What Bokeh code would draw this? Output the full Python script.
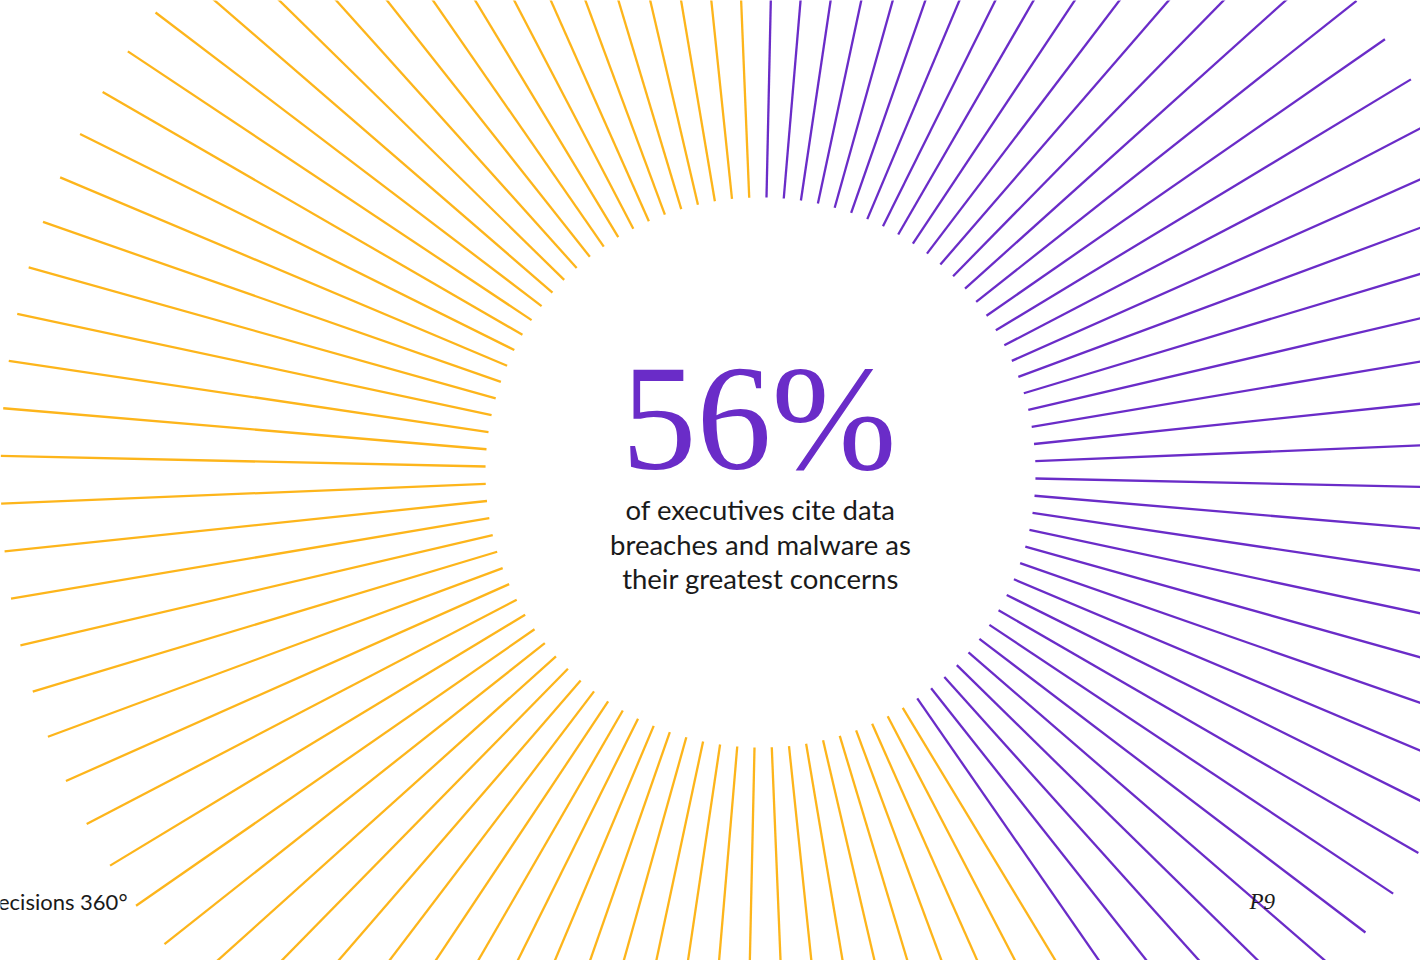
import numpy as np
from bokeh.plotting import figure
from bokeh.models import ColumnDataSource, Range1d, Label
from bokeh.embed import file_html
from bokeh.resources import INLINE

# ---- data ----
groups = ["cite data breaches and malware", "other"]
line_counts = [41, 59]          # rays drawn per group (as in the picture)
group_colors = ["#6A2CC8", "#FDB51B"]
headline = "56%"
caption = ["of executives cite data", "breaches and malware as", "their greatest concerns"]
footer_left = "Decisions 360\u00b0"
footer_right = "P9"

first_angle_deg = 1.25   # clockwise from 12 o'clock
inner_r = 275
outer_r = 760

# ---- build rays ----
n = sum(line_counts)
step = 360.0 / n
angles = np.deg2rad(first_angle_deg + step * np.arange(n))
cols = []
for c, k in zip(group_colors, line_counts):
    cols += [c] * k
src = ColumnDataSource(dict(
    x0=inner_r * np.sin(angles), y0=inner_r * np.cos(angles),
    x1=outer_r * np.sin(angles), y1=outer_r * np.cos(angles),
    color=cols,
))

W, H = 1420, 960
cx, cy = 760, 472   # centre position inside the canvas (pixels from left / top)
p = figure(width=W, height=H, output_backend="svg", toolbar_location=None,
           x_range=Range1d(-cx, W - cx), y_range=Range1d(-(H - cy), cy),
           min_border=0, outline_line_color=None, background_fill_color="white")
p.axis.visible = False
p.grid.visible = False

p.segment("x0", "y0", "x1", "y1", source=src, line_color="color", line_width=2.3)

p.add_layout(Label(x=-1.5, y=55, text=headline, text_align="center", text_baseline="alphabetic",
                   text_font="Liberation Serif", text_font_size="150px", text_color="#6A2CC8"))
for i, line in enumerate(caption):
    p.add_layout(Label(x=0, y=-37 - 34.5 * i, text=line, text_align="center",
                       text_baseline="alphabetic", text_font="Lato",
                       text_font_size="27.5px", text_color="#1a1a1a"))
p.add_layout(Label(x=135 - 768, y=480 - 909, text=footer_left, text_align="right",
                   text_baseline="alphabetic", text_font="Lato", text_font_size="22px",
                   text_color="#1a1a1a"))
p.add_layout(Label(x=1257 - 768, y=480 - 909, text=footer_right, text_align="left",
                   text_baseline="alphabetic", text_font="Liberation Serif",
                   text_font_style="italic", text_font_size="23px", text_color="#1a1a1a"))

open("out.html", "w").write(file_html(p, INLINE))
